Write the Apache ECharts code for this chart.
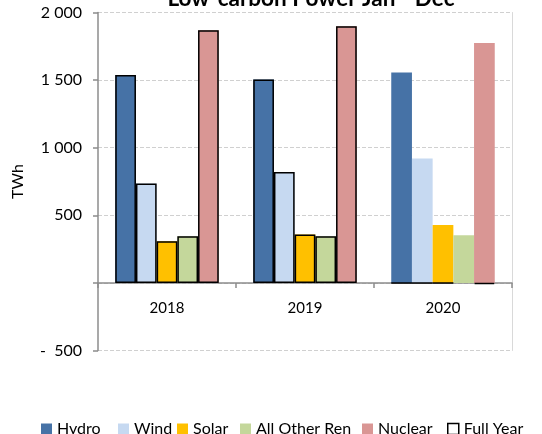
<!DOCTYPE html>
<html>
<head>
<meta charset="utf-8">
<script src="https://cdn.jsdelivr.net/npm/echarts@6/dist/echarts.min.js"></script>
<style>
  html, body { margin: 0; padding: 0; background: #fff; }
  #chart { width: 542px; height: 434px; }
</style>
</head>
<body>
<div id="chart"></div>
<script>
// data (TWh)
var years = ['2018', '2019', '2020'];
var hydro = [1538, 1504, 1556];
var wind = [735, 821, 920];
var solar = [308, 358, 429];
var otherRen = [345, 345, 353];
var nuclear = [1869, 1899, 1775];
// full year outlines (2020 not complete yet)
var fyHydro = [1538, 1504, 0];
var fyWind = [735, 821, 0];
var fySolar = [308, 358, 0];
var fyOtherRen = [345, 345, null];
var fyNuclear = [1869, 1899, -8];
var yTicks = [-500, 0, 500, 1000, 1500, 2000];

var font = 'Lato';
var names = ['Hydro', 'Wind', 'Solar', 'All Other Ren', 'Nuclear'];
var colors = ['#4672A6', '#C6D9F1', '#FFC000', '#C4D79B', '#D99694'];
var jd = [hydro, wind, solar, otherRen, nuclear];
var fy = [fyHydro, fyWind, fySolar, fyOtherRen, fyNuclear];

function fmt(v) {
    if (v === 0) return '';
    var s = String(Math.abs(v)).replace(/\B(?=(\d{3})+(?!\d))/g, ' ');
    return v < 0 ? '-  ' + s : s;
}

var series = [];
for (var i = 0; i < 5; i++) {
    series.push({
        name: names[i],
        type: 'bar',
        xAxisIndex: 0,
        barGap: '0%',
        barCategoryGap: '25%',
        itemStyle: { color: colors[i] },
        data: jd[i],
        z: 2
    });
}
for (var j = 0; j < 5; j++) {
    series.push({
        name: 'Full Year',
        type: 'bar',
        xAxisIndex: 1,
        barGap: '0%',
        barCategoryGap: '25%',
        itemStyle: { color: 'rgba(0,0,0,0)', borderColor: '#000', borderWidth: 1.5 },
        data: fy[j],
        z: 3
    });
}

// excel spaces the legend entries unevenly, so one legend per entry
var legendNames = names.concat(['Full Year']);
var legendLeft = [41, 118, 177, 240, 362, 447];
var legends = legendNames.map(function (n, k) {
    var item = n === 'Full Year'
        ? { name: n, itemStyle: { color: '#fff', borderColor: '#000', borderWidth: 1.5 } }
        : n;
    return {
        left: legendLeft[k],
        top: 421,
        padding: 0,
        itemWidth: 11,
        itemHeight: 11,
        icon: 'rect',
        textStyle: { fontFamily: font, fontSize: 16, color: '#000' },
        data: [item]
    };
});

var chart = echarts.init(document.getElementById('chart'));
chart.setOption({
    animation: false,
    title: {
        text: 'Low-carbon Power Jan - Dec',
        left: 306,
        textAlign: 'center',
        top: -18,
        textStyle: { fontFamily: font, fontSize: 22.5, fontWeight: 'bold', color: '#000' }
    },
    legend: legends,
    grid: { left: 98, right: 30, top: 12.5, bottom: 83.5 },
    xAxis: [{
        type: 'category',
        data: years,
        axisLine: { onZero: true, lineStyle: { color: '#8C8C8C', width: 1.5 } },
        axisTick: { show: true, length: 5, lineStyle: { color: '#8C8C8C', width: 1.5 } },
        axisLabel: { fontFamily: font, fontSize: 15, color: '#000', margin: -50 }
    }, {
        type: 'category',
        data: years,
        show: false
    }],
    yAxis: [{
        type: 'value',
        min: -500,
        max: 2000,
        interval: 500,
        name: 'TWh',
        nameLocation: 'middle',
        nameGap: 72,
        nameTextStyle: { fontFamily: font, fontSize: 16, color: '#000' },
        axisLine: { show: true, lineStyle: { color: '#8C8C8C', width: 1.5 } },
        axisTick: { show: true, length: 5, lineStyle: { color: '#8C8C8C', width: 1.5 } },
        axisLabel: { fontFamily: font, fontSize: 16, color: '#000', margin: 16, formatter: fmt },
        splitLine: { lineStyle: { color: '#D0D0D0', type: 'dashed', width: 1 } }
    }, {
        type: 'value',
        position: 'right',
        min: -500,
        max: 2000,
        interval: 500,
        axisLine: { show: true, lineStyle: { color: '#D9D9D9', width: 1 } },
        axisTick: { show: false },
        axisLabel: { show: false },
        splitLine: { show: false }
    }],
    series: series
});
</script>
</body>
</html>
